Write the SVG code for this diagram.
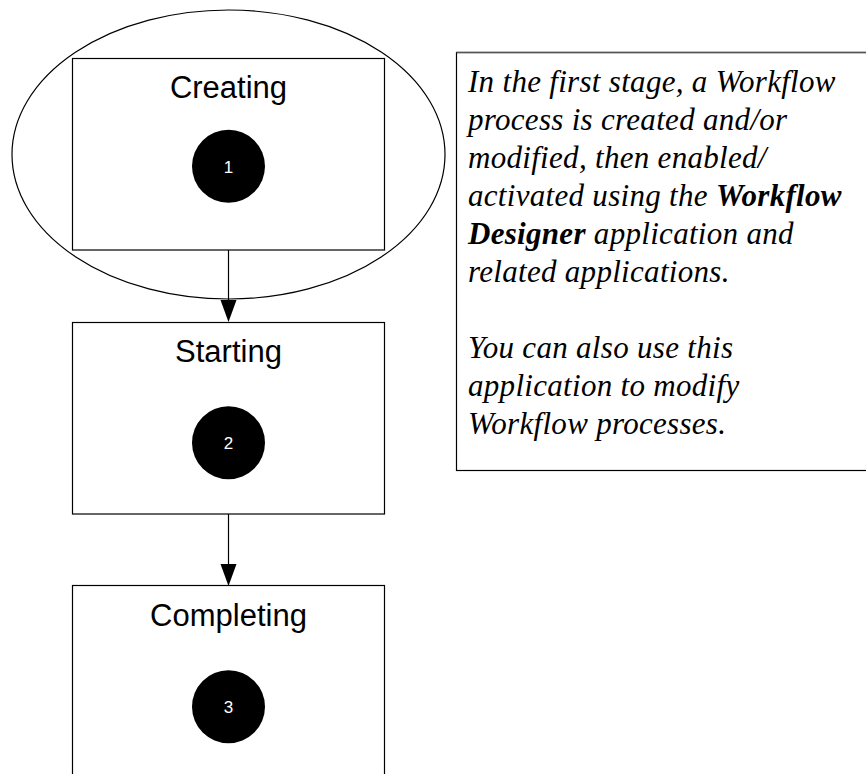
<svg xmlns="http://www.w3.org/2000/svg" width="866" height="774" viewBox="0 0 866 774">
<defs>
<style>
.box{fill:#fff;stroke:#000;stroke-width:1.2}
.title{font-family:"Liberation Sans",Arial,sans-serif;font-size:31px;fill:#000;text-anchor:middle}
.dot{fill:#000}
.num{font-family:"Liberation Sans",Arial,sans-serif;font-size:17px;fill:#fff;text-anchor:middle}
.conn{stroke:#000;stroke-width:1.2;fill:none}
.note{font-family:"Liberation Serif","Times New Roman",serif;font-style:italic;font-size:31px;fill:#000;letter-spacing:0.3px}
.b{font-weight:bold}
</style>
<marker id="arr" viewBox="0 0 16 22" refX="16" refY="11" markerWidth="22" markerHeight="16" markerUnits="userSpaceOnUse" orient="auto">
<path d="M0,0 L22,11 L0,22 Z" fill="#000"/>
</marker>
</defs>
<rect width="866" height="774" fill="#fff"/>
<g id="creating">
<rect class="box" x="72.5" y="58.5" width="312" height="191.5"/>
<text class="title" x="228.5" y="98">Creating</text>
<circle class="dot" cx="228.5" cy="166.3" r="36.5"/>
<text class="num" x="228.5" y="172.5">1</text>
</g>
<g id="highlight">
<ellipse cx="228.5" cy="154.5" rx="216.5" ry="144.5" fill="none" stroke="#000" stroke-width="1.2"/>
</g>
<g id="starting">
<rect class="box" x="72.5" y="322.5" width="312" height="191.5"/>
<text class="title" x="228.5" y="362.3">Starting</text>
<circle class="dot" cx="228.5" cy="442.7" r="36.5"/>
<text class="num" x="228.5" y="448.5">2</text>
</g>
<g id="completing">
<rect class="box" x="72.5" y="585.5" width="312" height="200"/>
<text class="title" x="228.5" y="626">Completing</text>
<circle class="dot" cx="228.5" cy="706.7" r="36.5"/>
<text class="num" x="228.5" y="712.5">3</text>
</g>
<g id="connectors">
<line class="conn" x1="228.5" y1="250" x2="228.5" y2="301"/>
<polygon points="220.5,300 236.5,300 228.5,322" fill="#000"/>
<line class="conn" x1="228.5" y1="514" x2="228.5" y2="565"/>
<polygon points="220.5,564 236.5,564 228.5,586" fill="#000"/>
</g>
<g id="note">
<rect x="456.5" y="52.5" width="420" height="418" fill="#fff" stroke="#000" stroke-width="1.2"/>
<line x1="456.5" y1="52.5" x2="866" y2="52.5" stroke="#555" stroke-width="1.5"/>
<text class="note" x="468" y="91.7">In the first stage, a Workflow</text>
<text class="note" x="468" y="129.7">process is created and/or</text>
<text class="note" x="468" y="167.7">modified, then enabled/</text>
<text class="note" x="468" y="205.7">activated using the <tspan class="b">Workflow</tspan></text>
<text class="note" x="468" y="243.7"><tspan class="b">Designer</tspan> application and</text>
<text class="note" x="468" y="281.7">related applications.</text>
<text class="note" x="468" y="357.7">You can also use this</text>
<text class="note" x="468" y="395.7">application to modify</text>
<text class="note" x="468" y="433.7">Workflow processes.</text>
</g>
</svg>
